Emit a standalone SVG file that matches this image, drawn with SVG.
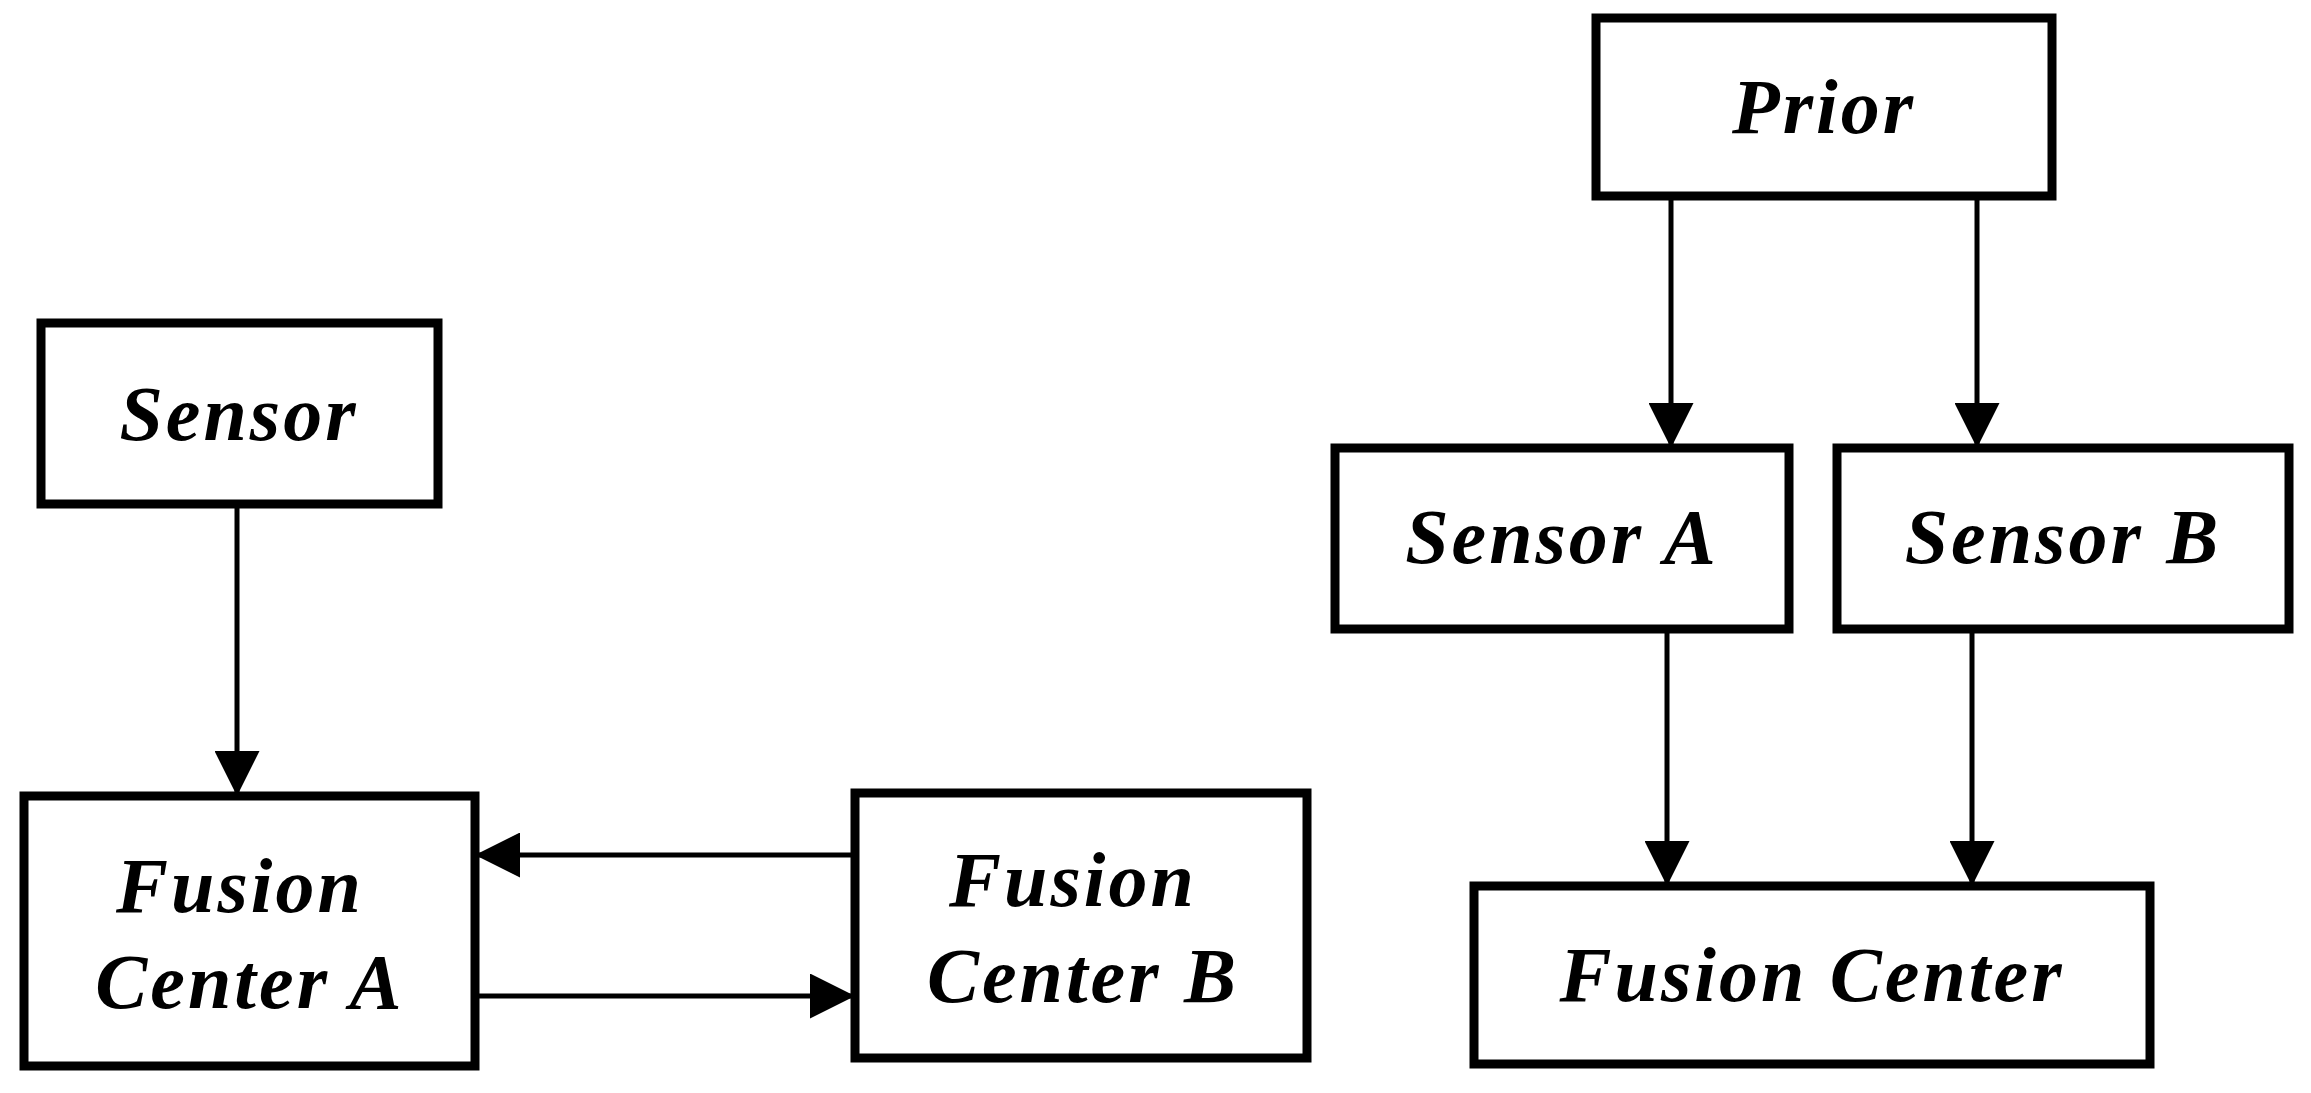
<svg xmlns="http://www.w3.org/2000/svg" width="2311" height="1093" viewBox="0 0 2311 1093">
<style>
.box{fill:#fff;stroke:#000;stroke-width:9}
.t{font-family:"Liberation Serif","DejaVu Serif",serif;font-weight:bold;font-style:italic;font-size:78px;letter-spacing:3px;text-anchor:middle;fill:#000}
.c{stroke:#000;stroke-width:5;fill:none;marker-end:url(#ah)}
</style>
<defs><marker id="ah" viewBox="0 0 10 10" refX="10" refY="5" markerWidth="9" markerHeight="9" markerUnits="strokeWidth" orient="auto"><path d="M0,0L10,5L0,10z" fill="#000"/></marker></defs>
<rect width="2311" height="1093" fill="#fff"/>
<g id="connectors">
<line class="c" x1="237" y1="504" x2="237" y2="796"/>
<line class="c" x1="855" y1="855" x2="475" y2="855"/>
<line class="c" x1="475" y1="996" x2="855" y2="996"/>
<line class="c" x1="1671" y1="196" x2="1671" y2="448"/>
<line class="c" x1="1977" y1="196" x2="1977" y2="448"/>
<line class="c" x1="1667" y1="629" x2="1667" y2="886"/>
<line class="c" x1="1972" y1="629" x2="1972" y2="886"/>
</g>
<g id="sensor"><rect class="box" x="41" y="323" width="397" height="181"/><text class="t" x="239" y="440">Sensor</text></g>
<g id="fca"><rect class="box" x="24" y="796" width="451" height="270"/><text class="t" x="240" y="912">Fusion</text><text class="t" x="250" y="1008">Center A</text></g>
<g id="fcb"><rect class="box" x="855" y="793" width="452" height="265"/><text class="t" x="1073" y="906">Fusion</text><text class="t" x="1083" y="1002">Center B</text></g>
<g id="prior"><rect class="box" x="1596" y="18" width="456" height="178"/><text class="t" x="1824" y="133">Prior</text></g>
<g id="sensorA"><rect class="box" x="1335" y="448" width="454" height="181"/><text class="t" x="1562" y="563">Sensor A</text></g>
<g id="sensorB"><rect class="box" x="1837" y="448" width="452" height="181"/><text class="t" x="2063" y="563">Sensor B</text></g>
<g id="fc"><rect class="box" x="1474" y="886" width="676" height="178"/><text class="t" x="1812" y="1001">Fusion Center</text></g>
</svg>
